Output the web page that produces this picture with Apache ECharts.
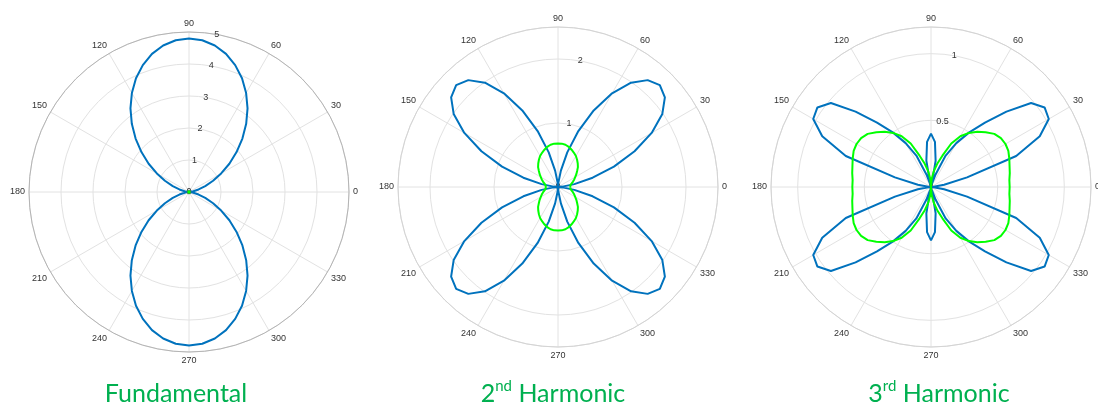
<!DOCTYPE html>
<html>
<head>
<meta charset="utf-8">
<script src="https://cdn.jsdelivr.net/npm/echarts@6/dist/echarts.min.js"></script>
<style>
  html, body { margin: 0; padding: 0; background: #fff; }
  #chart { width: 1098px; height: 408px; }
</style>
</head>
<body>
<div id="chart"></div>
<script>
// sample angles (degrees) shared by every curve
const angleDeg = [0,5,10,15,20,25,30,35,40,45,50,55,60,65,70,75,80,85,90,
  95,100,105,110,115,120,125,130,135,140,145,150,155,160,165,170,175,180,
  185,190,195,200,205,210,215,220,225,230,235,240,245,250,255,260,265,270,
  275,280,285,290,295,300,305,310,315,320,325,330,335,340,345,350,355,360];

// Fundamental
const fundBlue = [0,0.04,0.14,0.31,0.54,0.83,1.16,1.54,1.94,2.36,2.78,3.19,3.57,3.92,4.22,4.47,4.65,4.76,4.80,
  4.76,4.65,4.47,4.22,3.92,3.57,3.19,2.78,2.36,1.94,1.54,1.16,0.83,0.54,0.31,0.14,0.04,0,
  0.04,0.14,0.31,0.54,0.83,1.16,1.54,1.94,2.36,2.78,3.19,3.57,3.92,4.22,4.47,4.65,4.76,4.80,
  4.76,4.65,4.47,4.22,3.92,3.57,3.19,2.78,2.36,1.94,1.54,1.16,0.83,0.54,0.31,0.14,0.04,0];
const fundGreen = [0];

// 2nd harmonic
const h2Blue = [0,0.07,0.26,0.56,0.93,1.32,1.69,1.99,2.18,2.25,2.18,1.99,1.69,1.32,0.93,0.56,0.26,0.07,0,
  0.07,0.26,0.56,0.93,1.32,1.69,1.99,2.18,2.25,2.18,1.99,1.69,1.32,0.93,0.56,0.26,0.07,0,
  0.07,0.26,0.56,0.93,1.32,1.69,1.99,2.18,2.25,2.18,1.99,1.69,1.32,0.93,0.56,0.26,0.07,0,
  0.07,0.26,0.56,0.93,1.32,1.69,1.99,2.18,2.25,2.18,1.99,1.69,1.32,0.93,0.56,0.26,0.07,0];
const h2Green = [0.19,0.19,0.20,0.22,0.25,0.28,0.31,0.35,0.39,0.44,0.48,0.52,0.56,0.59,0.62,0.65,0.67,0.68,0.68,
  0.68,0.67,0.65,0.62,0.59,0.56,0.52,0.48,0.44,0.39,0.35,0.31,0.28,0.25,0.22,0.20,0.19,0.19,
  0.19,0.20,0.22,0.25,0.28,0.31,0.35,0.39,0.44,0.48,0.52,0.56,0.59,0.62,0.65,0.67,0.68,0.68,
  0.68,0.67,0.65,0.62,0.59,0.56,0.52,0.48,0.44,0.39,0.35,0.31,0.28,0.25,0.22,0.20,0.19,0.19];

// 3rd harmonic
const h3Blue = [0,0.02,0.10,0.28,0.68,0.90,1.02,1.04,0.98,0.80,0.63,0.50,0.38,0.26,0.10,0.02,0.20,0.34,0.40,
  0.34,0.20,0.02,0.10,0.26,0.38,0.50,0.63,0.80,0.98,1.04,1.02,0.90,0.68,0.28,0.10,0.02,0,
  0.02,0.10,0.28,0.68,0.90,1.02,1.04,0.98,0.80,0.63,0.50,0.38,0.26,0.10,0.02,0.20,0.34,0.40,
  0.34,0.20,0.02,0.10,0.26,0.38,0.50,0.63,0.80,0.98,1.04,1.02,0.90,0.68,0.28,0.10,0.02,0];
const h3Green = [0.59,0.59,0.60,0.61,0.625,0.64,0.645,0.64,0.62,0.58,0.54,0.495,0.44,0.36,0.25,0.18,0.12,0.06,0,
  0.06,0.12,0.18,0.25,0.36,0.44,0.495,0.54,0.58,0.62,0.64,0.645,0.64,0.625,0.61,0.60,0.59,0.59,
  0.59,0.60,0.61,0.625,0.64,0.645,0.64,0.62,0.58,0.54,0.495,0.44,0.36,0.25,0.18,0.12,0.06,0,
  0.06,0.12,0.18,0.25,0.36,0.44,0.495,0.54,0.58,0.62,0.64,0.645,0.64,0.625,0.61,0.60,0.59,0.59];

const rMax = [5, 2.5, 1.2];
const rStep = [1, 1, 0.5];

const BLUE = "#0072BD";
const GREEN = "#00FF00";
const TITLE_GREEN = "#00B050";

const panels = [
  { center: [189, 192], outer: "#b4b4b4", blue: fundBlue, green: fundGreen },
  { center: [558, 187], outer: "#d4d4d4", blue: h2Blue, green: h2Green },
  { center: [931, 187], outer: "#d4d4d4", blue: h3Blue, green: h3Green },
];
const R = 160;

const toPairs = (vals) => vals.map((r, i) => [r, angleDeg[i]]);

const polar = [], angleAxis = [], radiusAxis = [], series = [];

panels.forEach((p, i) => {
  // data polar: 0 deg at the right, counter-clockwise
  polar.push({ center: p.center, radius: R });
  angleAxis.push({
    polarIndex: i,
    type: "value",
    min: 0, max: 360, interval: 30,
    startAngle: 0, clockwise: false,
    axisLine: { lineStyle: { color: p.outer, width: 1 } },
    axisTick: { show: false },
    axisLabel: {
      color: "#333", fontSize: 9, margin: 4,
      fontFamily: "Liberation Sans",
      formatter: (v) => (v >= 360 ? "" : String(v)),
    },
    splitLine: { lineStyle: { color: "#e2e2e2", width: 1 } },
  });
  radiusAxis.push({
    polarIndex: i,
    min: 0, max: rMax[i], interval: rStep[i],
    axisLine: { show: false },
    axisTick: { show: false },
    axisLabel: { show: false },
    splitLine: { lineStyle: { color: "#e2e2e2", width: 1 } },
  });
});

// second set of polars only for the radius tick labels (drawn along 80 deg)
panels.forEach((p, i) => {
  polar.push({ center: p.center, radius: R });
  angleAxis.push({
    polarIndex: 3 + i,
    type: "value", min: 0, max: 360,
    startAngle: 80, clockwise: false,
    axisLine: { show: false }, axisTick: { show: false },
    axisLabel: { show: false }, splitLine: { show: false },
  });
  radiusAxis.push({
    polarIndex: 3 + i,
    min: 0, max: rMax[i], interval: rStep[i],
    axisLine: { show: false }, axisTick: { show: false },
    splitLine: { show: false },
    axisLabel: {
      show: true, margin: 0, color: "#333", fontSize: 9,
      fontFamily: "Liberation Sans",
      align: "center", verticalAlign: "middle",
      showMaxLabel: i === 0,
    },
  });
});

panels.forEach((p, i) => {
  series.push({
    type: "line", coordinateSystem: "polar", polarIndex: i,
    data: toPairs(p.blue), showSymbol: false, silent: true,
    lineStyle: { color: BLUE, width: 2 }, z: 3,
  });
  series.push({
    type: "line", coordinateSystem: "polar", polarIndex: i,
    data: toPairs(p.green), silent: true,
    showSymbol: p.green.length === 1, symbol: "circle", symbolSize: 4,
    itemStyle: { color: GREEN, borderColor: "#555", borderWidth: 0.5 },
    lineStyle: { color: GREEN, width: 2 }, z: 4,
  });
});

// panel captions (superscript via rich text)
const titleCenters = [176, 553, 939];
const titleText = [
  "{a|Fundamental}",
  "{a|2}{s|nd}{a| Harmonic}",
  "{a|3}{s|rd}{a| Harmonic}",
];
const title = titleText.map((t, i) => ({
  text: t,
  left: titleCenters[i],
  top: 379,
  padding: 0,
  textAlign: "center",
  textStyle: {
    fontWeight: "normal",
    rich: {
      a: { fontSize: 25, color: TITLE_GREEN, fontFamily: "Lato", fontWeight: "normal", lineHeight: 30 },
      s: { fontSize: 15, color: TITLE_GREEN, fontFamily: "Lato", fontWeight: "normal", verticalAlign: "top", lineHeight: 14 },
    },
  },
}));

const chart = echarts.init(document.getElementById("chart"));
chart.setOption({
  backgroundColor: "#fff",
  animation: false,
  title,
  polar,
  angleAxis,
  radiusAxis,
  series,
});
</script>
</body>
</html>
